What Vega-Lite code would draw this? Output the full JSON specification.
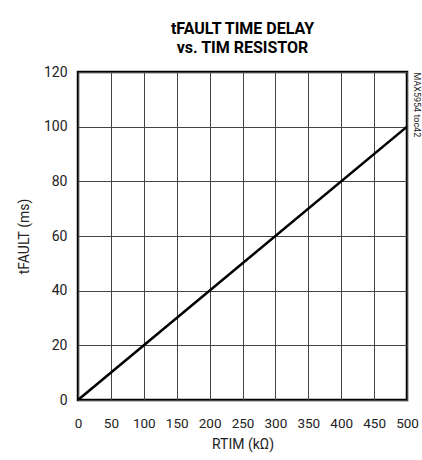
{
  "$schema": "https://vega.github.io/schema/vega-lite/v6.json",
  "width": 329,
  "height": 328,
  "autosize": "none",
  "padding": {"left": 78, "top": 72, "right": 15, "bottom": 60},
  "background": "white",
  "title": {
    "text": ["tFAULT TIME DELAY", "vs. TIM RESISTOR"],
    "font": "Roboto",
    "fontSize": 16,
    "fontWeight": "bold",
    "color": "black",
    "anchor": "middle",
    "offset": 9,
    "lineHeight": 19
  },
  "data": {"values": [{"r": 0, "t": 0}, {"r": 500, "t": 100}]},
  "layer": [
    {
      "mark": {"type": "line", "color": "black", "strokeWidth": 2.5, "clip": true},
      "encoding": {
        "x": {
          "field": "r", "type": "quantitative",
          "scale": {"domain": [0, 500], "nice": false},
          "axis": {"values": [0, 50, 100, 150, 200, 250, 300, 350, 400, 450, 500], "title": "RTIM (kΩ)", "grid": true, "ticks": false, "domain": false, "labelPadding": 16, "titlePadding": 8, "labelOverlap": false, "labelFlush": false, "labelFontSize": 13.5}
        },
        "y": {
          "field": "t", "type": "quantitative",
          "scale": {"domain": [0, 120], "nice": false},
          "axis": {"values": [0, 20, 40, 60, 80, 100, 120], "title": "tFAULT (ms)", "grid": true, "ticks": false, "domain": false, "labelPadding": 11, "titlePadding": 12, "labelOverlap": false, "labelFlush": false}
        }
      }
    },
    {
      "mark": {"type": "rule", "opacity": 0},
      "encoding": {
        "y": {
          "field": "t", "type": "quantitative",
          "axis": {"orient": "right", "title": "MAX5954 toc42", "labels": false, "ticks": false, "domain": false, "grid": false, "titleAngle": 90, "titleAnchor": "end", "titleFontSize": 9, "titleFontWeight": "normal", "titlePadding": 4, "titleAlign": "left", "titleBaseline": "bottom"}
        }
      }
    }
  ],
  "resolve": {"scale": {"y": "independent"}},
  "config": {
    "view": {"stroke": "black", "strokeWidth": 2.5},
    "axis": {
      "labelFont": "Roboto",
      "titleFont": "Roboto",
      "labelFontSize": 14,
      "titleFontSize": 14,
      "titleFontWeight": "normal",
      "labelColor": "#222",
      "titleColor": "#222",
      "gridColor": "#444",
      "gridWidth": 1,
      "gridOpacity": 1
    }
  }
}
